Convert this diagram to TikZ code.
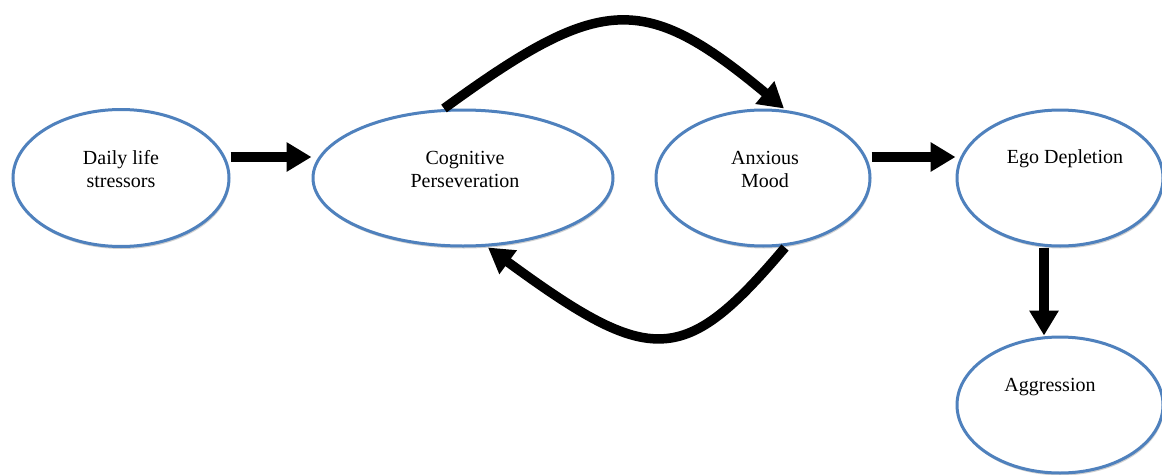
\documentclass[tikz,border=0pt]{standalone}
\usepackage{fontspec}
\setmainfont{Liberation Serif}
\usetikzlibrary{arrows.meta,shadows,shapes.geometric}
\definecolor{ellblue}{RGB}{79,129,189}
\begin{document}
\begin{tikzpicture}[x=1pt,y=-1pt,
  ell/.style={ellipse, draw=ellblue, line width=3pt, fill=white, inner sep=0pt,
    drop shadow={shadow xshift=1pt, shadow yshift=-2.5pt, fill=black!30, opacity=0.6}},
  lbl/.style={font=\fontsize{20}{23}\selectfont, align=center, inner sep=0pt},
  arr/.style={line width=10pt, -{Triangle[length=25pt,width=28pt]}},
]
\useasboundingbox (0,0) rectangle (1162,474);
\fill[white] (0,0) rectangle (1162,474);
\node[ell, minimum width=216pt, minimum height=137pt] (daily) at (121,178) {};
\node[ell, minimum width=300pt, minimum height=136pt] (cog) at (463,178) {};
\node[ell, minimum width=214pt, minimum height=136pt] (anx) at (763,178) {};
\node[ell, minimum width=206pt, minimum height=136pt] (ego) at (1060,178) {};
\node[ell, minimum width=206pt, minimum height=136pt] (agg) at (1060,405) {};
\node[lbl] (dailyt) at (121,168.7) {Daily life\\stressors};
\node[lbl] (cogt) at (465,169) {Cognitive\\Perseveration};
\node[lbl] (anxt) at (765,169) {Anxious\\Mood};
\node[lbl, anchor=base] (egot) at (1065,163) {Ego Depletion};
\node[lbl, anchor=base] (aggt) at (1050,391) {Aggression};
\draw[arr] ([yshift=21pt]daily.east) -- ([yshift=21pt]cog.west);
\draw[arr] ([yshift=21pt]anx.east) -- ([yshift=21pt]ego.west);
\draw[arr] ([xshift=-16pt]ego.south) -- ([xshift=-16pt]agg.north);
\draw[arr, line width=9.5pt] ([xshift=-19pt]cog.north) .. controls (600,-5) and (643,-9) .. ([xshift=21pt]anx.north);
\draw[arr, line width=9.5pt] ([xshift=22pt]anx.south) .. controls (684,367) and (651,367) .. ([xshift=25pt]cog.south);
\end{tikzpicture}
\end{document}
